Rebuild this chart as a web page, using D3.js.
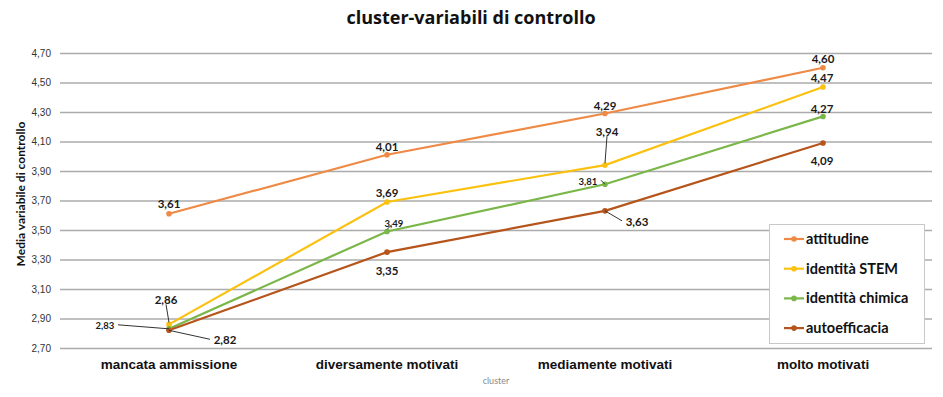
<!DOCTYPE html>
<html>
<head>
<meta charset="utf-8">
<script src="https://cdn.jsdelivr.net/npm/d3@7"></script>
<style>
  body { margin: 0; background: #fff; }
  svg { display: block; font-family: Lato, "Open Sans", sans-serif; }
</style>
</head>
<body>
<div id="chart"></div>
<script>
// data
const categories = ['mancata ammissione', 'diversamente motivati', 'mediamente motivati', 'molto motivati'];
const seriesNames = ['attitudine', 'identità STEM', 'identità chimica', 'autoefficacia'];
const attitudine = [3.61, 4.01, 4.29, 4.60];
const identitaStem = [2.86, 3.69, 3.94, 4.47];
const identitaChimica = [2.83, 3.49, 3.81, 4.27];
const autoefficacia = [2.82, 3.35, 3.63, 4.09];
const yTicks = [2.7, 2.9, 3.1, 3.3, 3.5, 3.7, 3.9, 4.1, 4.3, 4.5, 4.7];

const colors = ['#ee8a45', '#fbc10f', '#7ab648', '#b5541b'];

// label placement per series / point: [dx, dy, small, leader]
const labelPos = [
  [[0, -10], [0, -8], [0, -8], [0, -9]],
  [[-3, -24, 0, 1], [0, -9], [2, -33, 0, 1], [-1, -9]],
  [[-64, -3, 1, 1], [7, -8, 1, 1], [-17, -3, 1, 1], [-1, -7]],
  [[56, 10, 0, 1], [0, 19], [32, 11, 0, 1], [-1, 18]],
];

const series = [attitudine, identitaStem, identitaChimica, autoefficacia]
  .map((values, i) => ({ name: seriesNames[i], color: colors[i], values }));

const width = 943;
const height = 397;
const margin = { top: 53, right: 11, bottom: 49, left: 60 };

const svg = d3.select('#chart').append('svg')
  .attr('width', width)
  .attr('height', height);

const x = d3.scaleBand()
  .domain(categories)
  .range([margin.left, width - margin.right]);

const y = d3.scaleLinear()
  .domain([2.7, 4.7])
  .range([height - margin.bottom, margin.top]);

const fmt = (v) => d3.format('.2f')(v).replace('.', ',');

// title
svg.append('text')
  .attr('x', 471)
  .attr('y', 24)
  .attr('text-anchor', 'middle')
  .attr('font-family', '"Open Sans", sans-serif')
  .attr('font-size', 18)
  .attr('font-weight', 'bold')
  .attr('fill', '#111')
  .text('cluster-variabili di controllo');

// gridlines + y axis
const yAxis = svg.append('g')
  .attr('transform', `translate(${margin.left},0)`)
  .call(d3.axisLeft(y)
    .tickValues(yTicks)
    .tickSize(-(width - margin.left - margin.right))
    .tickPadding(9)
    .tickFormat(fmt));
yAxis.select('.domain').remove();
yAxis.selectAll('line').attr('stroke', '#ababab').attr('stroke-width', 1.6);
yAxis.selectAll('text').attr('font-size', 10).attr('fill', '#333');

// x axis
const xAxis = svg.append('g')
  .attr('transform', `translate(0,${height - margin.bottom})`)
  .call(d3.axisBottom(x).tickSize(0).tickPadding(11));
xAxis.select('.domain').remove();
xAxis.selectAll('text')
  .attr('font-size', 13.5)
  .attr('font-weight', 'bold')
  .attr('fill', '#111');

svg.append('text')
  .attr('x', 496)
  .attr('y', 384)
  .attr('text-anchor', 'middle')
  .attr('font-size', 9)
  .attr('fill', '#8a8a8a')
  .text('cluster');

svg.append('text')
  .attr('transform', 'rotate(-90)')
  .attr('x', -194)
  .attr('y', 25)
  .attr('text-anchor', 'middle')
  .attr('font-size', 12)
  .attr('font-weight', 'bold')
  .attr('fill', '#111')
  .text('Media variabile di controllo');

// lines
const cx = (i) => x(categories[i]) + x.bandwidth() / 2;
const line = d3.line().x((d, i) => cx(i)).y((d) => y(d));

const g = svg.append('g');
g.selectAll('path.series')
  .data(series)
  .enter()
  .append('path')
  .attr('class', 'series')
  .attr('fill', 'none')
  .attr('stroke', (d) => d.color)
  .attr('stroke-width', 2.2)
  .attr('d', (d) => line(d.values));

series.forEach((s) => {
  g.selectAll(null)
    .data(s.values)
    .enter()
    .append('circle')
    .attr('cx', (d, i) => cx(i))
    .attr('cy', (d) => y(d))
    .attr('r', 2.8)
    .attr('fill', s.color);
});

// data labels
series.forEach((s, si) => {
  s.values.forEach((v, i) => {
    const [dx, dy, small, leader] = labelPos[si][i];
    const px = cx(i);
    const py = y(v);
    const lx = px + dx;
    const ly = py + dy;
    if (leader) {
      let ex = lx;
      let ey = ly;
      if (Math.abs(dx) > Math.abs(dy)) {
        ex = lx + (dx < 0 ? (small ? 13 : 15) : -15);
        ey = ly - 1;
      } else {
        ey = ly + (dy < 0 ? 4 : -12);
      }
      if (si === 2 && i === 1) { ex = lx - 2; ey = ly + 1; }
      svg.append('path')
        .attr('d', `M${ex},${ey}L${px},${py - (dy < 0 && Math.abs(dy) > Math.abs(dx) ? 2 : 0)}`)
        .attr('stroke', '#333')
        .attr('stroke-width', 1)
        .attr('fill', 'none');
    }
    svg.append('text')
      .attr('x', lx)
      .attr('y', ly)
      .attr('dy', '0.35em')
      .attr('text-anchor', 'middle')
      .attr('font-size', small ? 9.5 : 11.5)
      .attr('font-weight', 'bold')
      .attr('fill', '#1a1a1a')
      .text(fmt(v));
  });
});

// legend
const legend = svg.append('g').attr('transform', 'translate(769,224)');
legend.append('rect')
  .attr('x', 0.5)
  .attr('y', 0.5)
  .attr('width', 155)
  .attr('height', 119)
  .attr('fill', '#fff')
  .attr('stroke', '#c8c8c8');

const item = legend.selectAll('g.item')
  .data(series)
  .enter()
  .append('g')
  .attr('class', 'item')
  .attr('transform', (d, i) => `translate(15,${15 + i * 29.7})`);

item.append('line')
  .attr('x1', 0)
  .attr('x2', 20)
  .attr('stroke', (d) => d.color)
  .attr('stroke-width', 2.2);
item.append('circle')
  .attr('cx', 10)
  .attr('r', 2.8)
  .attr('fill', (d) => d.color);
item.append('text')
  .attr('x', 22)
  .attr('dy', '0.35em')
  .attr('font-size', 14.5)
  .attr('font-weight', 'bold')
  .attr('fill', '#111')
  .text((d) => d.name);
</script>
</body>
</html>
